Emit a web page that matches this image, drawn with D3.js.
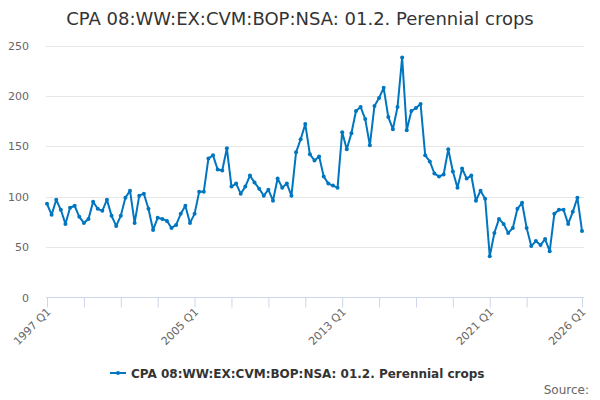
<!DOCTYPE html>
<html>
<head>
<meta charset="utf-8">
<script src="https://cdn.jsdelivr.net/npm/d3@7"></script>
<style>
  body { margin: 0; background: #fff; }
  svg { font-family: "DejaVu Sans", sans-serif; }
</style>
</head>
<body>
<div id="chart"></div>
<script>
// chart data
var title = "CPA 08:WW:EX:CVM:BOP:NSA: 01.2. Perennial crops";
var startYear = 1997;
var values = [
    93, 82, 97, 87, 73, 89, 91, 80, 74, 78, 95, 88, 86, 97, 81, 71, 81, 99, 106, 74, 101, 103, 88, 67,
    79, 78, 76, 69, 72, 83, 91, 74, 83, 105, 105, 138, 141, 127, 126, 148, 110, 113, 103, 110, 121, 114, 108,
    101, 107, 96, 118, 109, 113, 101, 144, 157, 172, 142, 136, 140, 120, 113, 111, 109, 164, 147, 163, 185,
    189, 177, 151, 190, 198, 208, 179, 167, 189, 238, 166, 185, 188, 192, 141, 135, 123, 120, 122, 147, 125, 109, 128, 118,
    121, 96, 106, 98, 41, 64, 78, 73, 64, 69, 88, 94, 69, 51, 56, 52, 58, 46, 83, 87, 87, 73, 85, 99, 66
];
var yTicks = [0, 50, 100, 150, 200, 250];
var tickLabels = ["1997 Q1", "2005 Q1", "2013 Q1", "2021 Q1", "2026 Q1"];

// quarter categories
var quarters = values.map((v, i) => (startYear + Math.floor(i / 4)) + " Q" + (i % 4 + 1));
var data = values.map((v, i) => ({ q: quarters[i], i: i, value: v }));

var width = 600;
var height = 400;
var color = "#0076c0";

var svg = d3.select('#chart')
    .append('svg')
    .attr("width", width)
    .attr("height", height);

var xScale = d3.scaleLinear()
    .domain([0, values.length - 1])
    .range([47, 582]);

var yScale = d3.scaleLinear()
    .domain([0, 250])
    .range([297.5, 45.5]);

// title
svg.append('text')
    .attr('x', 300)
    .attr('y', 25)
    .attr('text-anchor', 'middle')
    .attr('font-size', '18px')
    .attr('fill', '#333')
    .text(title);

// grid + y labels
svg.append('g')
    .selectAll('line')
    .data(yTicks.filter(d => d > 0))
    .enter()
    .append('line')
    .attr('x1', 46)
    .attr('x2', 584)
    .attr('y1', d => Math.round(yScale(d)) + 0.5)
    .attr('y2', d => Math.round(yScale(d)) + 0.5)
    .attr('stroke', '#e6e6e6')
    .attr('stroke-width', 1);

svg.append('g')
    .selectAll('text')
    .data(yTicks)
    .enter()
    .append('text')
    .attr('x', 29)
    .attr('y', d => yScale(d) + 4)
    .attr('text-anchor', 'end')
    .attr('font-size', '11px')
    .attr('fill', '#666')
    .text(d => d);

// x axis: ticks every 2 years plus the last quarter
var tickIdx = d3.range(0, 105, 8).concat([values.length - 1]);
var xAxis = d3.axisBottom(xScale)
    .tickValues(tickIdx)
    .tickSize(10)
    .tickFormat(i => tickLabels.indexOf(quarters[i]) >= 0 ? quarters[i] : "");

var gx = svg.append('g')
    .attr('transform', 'translate(0,' + yScale(0) + ')')
    .call(xAxis);

gx.select('.domain').attr('stroke', '#ccd6eb').attr('d', 'M46,0H584');
gx.selectAll('.tick line').attr('stroke', '#ccd6eb');
gx.selectAll('.tick text')
    .attr('font-family', '"DejaVu Sans", sans-serif')
    .attr('font-size', '11px')
    .attr('fill', '#666')
    .attr('text-anchor', 'end')
    .attr('dy', null)
    .attr('y', null)
    .attr('transform', 'translate(4,15) rotate(-45)');

// series
var line = d3.line()
    .x(d => xScale(d.i))
    .y(d => yScale(d.value));

svg.append('path')
    .datum(data)
    .attr('fill', 'none')
    .attr('stroke', color)
    .attr('stroke-width', 2)
    .attr('stroke-linejoin', 'round')
    .attr('d', line);

svg.append('g')
    .selectAll('circle')
    .data(data)
    .enter()
    .append('circle')
    .attr('cx', d => xScale(d.i))
    .attr('cy', d => yScale(d.value))
    .attr('r', 2)
    .attr('fill', color);

// legend
var legend = svg.append('g');
legend.append('line')
    .attr('x1', 110).attr('x2', 126)
    .attr('y1', 373).attr('y2', 373)
    .attr('stroke', color)
    .attr('stroke-width', 2);
legend.append('circle')
    .attr('cx', 118).attr('cy', 373).attr('r', 2)
    .attr('fill', color);
legend.append('text')
    .attr('x', 131)
    .attr('y', 377.5)
    .attr('font-size', '12px')
    .attr('font-weight', 'bold')
    .attr('fill', '#333')
    .text(title);

// credits
svg.append('text')
    .attr('x', 589)
    .attr('y', 394)
    .attr('text-anchor', 'end')
    .attr('font-size', '12px')
    .attr('fill', '#666')
    .text("Source:");
</script>
</body>
</html>
